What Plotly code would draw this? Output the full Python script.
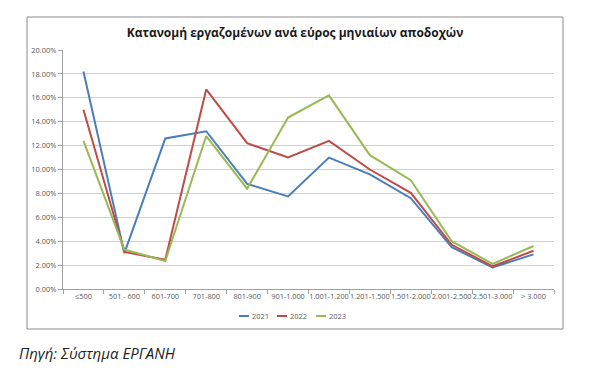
import plotly.graph_objects as go

categories = ["≤500", "501 - 600", "601-700", "701-800", "801-900", "901-1.000",
              "1.001-1.200", "1.201-1.500", "1.501-2.000", "2.001-2.500", "2.501-3.000", "> 3.000"]
y2021 = [18.2, 3.0, 12.6, 13.2, 8.8, 7.75, 11.0, 9.6, 7.6, 3.5, 1.8, 2.9]
y2022 = [15.0, 3.1, 2.45, 16.7, 12.2, 11.0, 12.4, 10.0, 8.05, 3.7, 1.9, 3.2]
y2023 = [12.4, 3.3, 2.35, 12.8, 8.4, 14.35, 16.2, 11.2, 9.1, 4.0, 2.1, 3.6]
series = [("2021", y2021, "#4a7ebb"), ("2022", y2022, "#be4b48"), ("2023", y2023, "#98b954")]

fig = go.Figure()
for name, vals, col in series:
    fig.add_trace(go.Scatter(x=categories, y=vals, name=name, mode="lines",
                             line=dict(color=col, width=2), showlegend=False))

# page body has an 8px margin: positions below are in window pixels
OFF = 8
W, H = 576, 354
L, R, T, B = 63 - OFF, 554 - OFF, 50 - OFF, 289 - OFF
pw, ph = R - L, B - T
def px(x): return (x - OFF - L) / pw
def py(y): return (B - (y - OFF)) / ph

shapes = [dict(type="rect", xref="paper", yref="paper",
               x0=px(27), x1=px(563), y0=py(329), y1=py(17),
               line=dict(color="#8c8c8c", width=1), fillcolor="rgba(0,0,0,0)", layer="below")]
annotations = [dict(text="<i>Πηγή: Σύστημα ΕΡΓΑΝΗ</i>", xref="paper", yref="paper",
                    x=px(17), y=py(353), xanchor="left", yanchor="middle", showarrow=False,
                    font=dict(size=15, color="#222222"))]
# custom legend (short line swatches like the original)
leg_x = [239, 277, 316]
for (name, _, col), lx in zip(series, leg_x):
    shapes.append(dict(type="line", xref="paper", yref="paper",
                       x0=px(lx), x1=px(lx + 10), y0=py(316), y1=py(316),
                       line=dict(color=col, width=2)))
    annotations.append(dict(text=name, xref="paper", yref="paper", x=px(lx + 11), y=py(316),
                            xanchor="left", yanchor="middle", showarrow=False,
                            font=dict(size=7.5, color="#595959")))

fig.update_layout(
    width=W, height=H,
    margin=dict(l=L, r=W - R, t=T, b=H - B, autoexpand=False),
    paper_bgcolor="white", plot_bgcolor="white",
    font=dict(family="Open Sans, Liberation Sans, sans-serif", color="#595959"),
    title=dict(text="<b>Κατανομή εργαζομένων ανά εύρος μηνιαίων αποδοχών</b>",
               x=(295 - OFF) / W, xanchor="center", y=1 - (33 - OFF) / H, yanchor="middle",
               font=dict(size=12, color="#1a1a1a")),
    showlegend=False,
    xaxis=dict(type="category", range=[-0.5, 11.5], automargin=False,
               showline=True, linecolor="#a0a0a0", linewidth=1,
               ticks="outside", tickson="boundaries", ticklen=4, tickcolor="#a0a0a0",
               tickfont=dict(size=7.3, color="#595959"), showgrid=False, tickangle=0),
    yaxis=dict(range=[0, 20], dtick=2, tickformat=".2f", ticksuffix="%", automargin=False,
               showline=True, linecolor="#a0a0a0", linewidth=1,
               ticks="outside", ticklen=4, tickcolor="#a0a0a0",
               gridcolor="#d0d0d0", gridwidth=1,
               tickfont=dict(size=7.5, color="#595959"), zeroline=False),
    shapes=shapes,
    annotations=annotations,
)

fig.write_html("out.html")
